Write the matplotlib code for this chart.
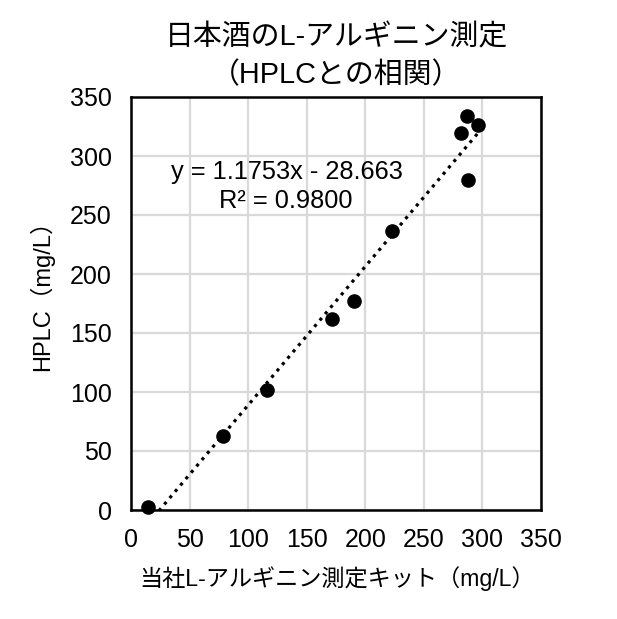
import matplotlib
matplotlib.use("Agg")
import matplotlib.pyplot as plt
import numpy as np

plt.rcParams['font.family'] = ['Liberation Sans', 'Noto Sans CJK JP', 'DejaVu Sans']

# data
kit_values = [14.7, 78.4, 116.0, 172.0, 190.2, 222.4, 281.6, 287.0, 296.5, 287.5]
hplc_values = [2.2, 62.5, 101.3, 161.8, 177.4, 236.5, 319.2, 333.9, 326.0, 279.5]
trend_slope = 1.1753
trend_intercept = -28.663
r_squared = 0.9800
ticks = [0, 50, 100, 150, 200, 250, 300, 350]

title_line1 = "日本酒のL-アルギニン測定"
title_line2 = "（HPLCとの相関）"
xlabel_text = "当社L-アルギニン測定キット（mg/L）"
ylabel_text = "HPLC（mg/L）"

W, H = 617, 619
fig = plt.figure(figsize=(W/100, H/100), dpi=100)
ax = fig.add_axes([131/W, 1-510/H, (541-131)/W, (510-97)/H])

ax.set_xlim(0, 350)
ax.set_ylim(0, 350)
ax.set_xticks(ticks)
ax.set_yticks(ticks)
ax.grid(True, color='#d9d9d9', linewidth=1.6)
ax.set_axisbelow(True)
ax.tick_params(length=0, labelsize=18, colors='black')
ax.tick_params(axis='x', pad=13)
ax.tick_params(axis='y', pad=14)
for s in ax.spines.values():
    s.set_color('black')
    s.set_linewidth(1.8)

xs = np.array([min(kit_values), max(kit_values)])
ax.plot(xs, trend_slope * xs + trend_intercept, color='black',
        linewidth=2.3, linestyle=(0, (1, 1.6)), zorder=2)
ax.scatter(kit_values, hplc_values, s=90, color='black', zorder=3, clip_on=False)

sign = '-' if trend_intercept < 0 else '+'
eq1 = f"y = {trend_slope:.4f}x {sign} {abs(trend_intercept):.3f}"
eq2 = f"R² = {r_squared:.4f}"
ax.text((287-131)/410, (510-172)/413, eq1, transform=ax.transAxes,
        ha='center', va='center', fontsize=18.3)
ax.text((285.5-131)/410, (510-201)/413, eq2, transform=ax.transAxes,
        ha='center', va='center', fontsize=18.3)

fig.text(337/W, 1-37/H, title_line1, ha='center', va='center', fontsize=20.8)
fig.text(336/W, 1-75/H, title_line2, ha='center', va='center', fontsize=20.8)
fig.text(337.5/W, 1-579/H, xlabel_text, ha='center', va='center', fontsize=16.7)
fig.text(42/W, 1-290/H, ylabel_text, ha='center', va='center',
         fontsize=17, rotation=90)

fig.savefig("out.png", dpi=100)
